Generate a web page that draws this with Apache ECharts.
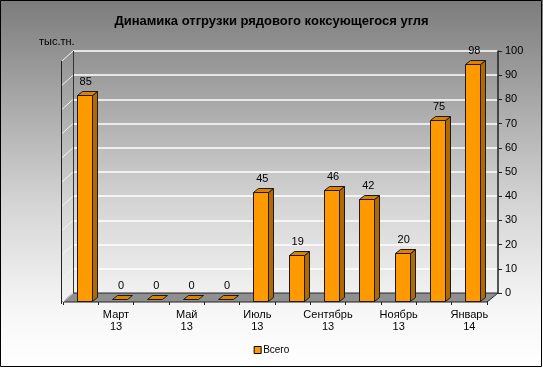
<!DOCTYPE html>
<html><head><meta charset="utf-8">
<script src="https://cdn.jsdelivr.net/npm/echarts@6/dist/echarts.min.js"></script>
<style>html,body{margin:0;padding:0;background:#fff;}#c{width:543px;height:368px;}</style>
</head><body><div id="c"></div>
<script>
// ---- data ----
const categories = ['Февраль 13','Март 13','Апрель 13','Май 13','Июнь 13','Июль 13','Август 13','Сентябрь 13','Октябрь 13','Ноябрь 13','Декабрь 13','Январь 14'];
const values = [85, 0, 0, 0, 0, 45, 19, 46, 42, 20, 75, 98];
const yMin = 0, yMax = 100, yStep = 10;
const seriesName = 'Всего';
const titleText = 'Динамика отгрузки рядового коксующегося угля';
const unitLabel = 'тыс.тн.';

// ---- layout (front plane & back wall) ----
const W = 543, H = 368;
const F = {left: 63, right: 487, top: 59, base: 301};
const B = {left: 73, right: 498, top: 51, base: 293};
const DX = 5, DY = -4, BW = 15, SHIFT = 3.5;
const FONT = 'Liberation Sans, Arial, sans-serif';

const chart = echarts.init(document.getElementById('c'), null, {renderer: 'canvas'});

const ticks = [];
for (let v = yMin; v <= yMax; v += yStep) ticks.push(v);

function yBack(v) { return B.base - (v - yMin) / (yMax - yMin) * (B.base - B.top); }
function yFront(v) { return F.base - (v - yMin) / (yMax - yMin) * (F.base - F.top); }

const graphics = [];
// outer frame
graphics.push({type: 'rect', shape: {x: 0.5, y: 0.5, width: W - 2, height: H - 2}, style: {fill: null, stroke: '#000', lineWidth: 1}, z: 100});
// unit label
graphics.push({type: 'text', left: 39, top: 36, style: {text: unitLabel, font: '11px ' + FONT, fill: '#000'}});
// floor
graphics.push({type: 'polygon', shape: {points: [[F.left, F.base + 1], [F.right, F.base + 1], [B.right, B.base], [B.left, B.base]]},
  style: {fill: '#8f8f8f', stroke: '#222', lineWidth: 1}, z: 1});
// side wall grid diagonals
ticks.forEach(v => {
  const yb = yBack(v);
  graphics.push({type: 'line', shape: {x1: F.left - 1, y1: yb + 10, x2: B.left, y2: yb}, style: {stroke: '#f4f4f4', lineWidth: 1}, z: 2});
});
// left front axis line
graphics.push({type: 'line', shape: {x1: F.left - 1.5, y1: yBack(yMax) + 10, x2: F.left - 1.5, y2: F.base + 3}, style: {stroke: '#222', lineWidth: 1}, z: 3});
// back wall left edge
graphics.push({type: 'line', shape: {x1: B.left + 0.5, y1: B.top, x2: B.left + 0.5, y2: B.base}, style: {stroke: '#333', lineWidth: 1}, z: 3});

const option = {
  animation: false,
  backgroundColor: new echarts.graphic.LinearGradient(0, 0, 0, 1, [
    {offset: 0, color: '#7c7c7c'},
    {offset: 0.55, color: '#d4d4d4'},
    {offset: 0.85, color: '#f7f7f7'},
    {offset: 1, color: '#ffffff'}
  ]),
  title: {text: titleText, left: 'center', top: 10,
    textStyle: {fontFamily: FONT, fontSize: 13, fontWeight: 'bold', color: '#000'}},
  legend: {data: [seriesName], left: 'center', bottom: 8, icon: 'rect', itemWidth: 7, itemHeight: 7, itemGap: 2,
    itemStyle: {borderColor: '#000', borderWidth: 1},
    textStyle: {fontFamily: FONT, fontSize: 10, color: '#000', padding: [0, 0, 0, -3]}},
  grid: [
    {left: F.left, width: F.right - F.left, top: F.top, height: F.base - F.top},
    {left: B.left, width: B.right - B.left, top: B.top, height: B.base - B.top}
  ],
  xAxis: [
    {type: 'category', gridIndex: 0, data: categories, offset: 2,
      axisLine: {lineStyle: {color: '#222', width: 1}},
      axisTick: {show: true, length: 4, lineStyle: {color: '#222'}},
      axisLabel: {interval: 0, margin: 6, fontFamily: FONT, fontSize: 11, color: '#000', lineHeight: 12,
        formatter: (v, i) => (i % 2 === 1 ? v.replace(' ', '\n') : '')}},
    {type: 'category', gridIndex: 1, data: categories, show: false}
  ],
  yAxis: [
    {type: 'value', gridIndex: 0, min: yMin, max: yMax, interval: yStep, show: false},
    {type: 'value', gridIndex: 1, min: yMin, max: yMax, interval: yStep, position: 'right',
      axisLine: {show: true, lineStyle: {color: '#222', width: 1.5}},
      axisTick: {show: true, length: 4, inside: false, lineStyle: {color: '#222'}},
      axisLabel: {margin: 7, fontFamily: FONT, fontSize: 11, color: '#000'},
      splitLine: {show: true, lineStyle: {color: '#ffffff', width: 1.5}}}
  ],
  series: [
    {type: 'custom', name: seriesName, xAxisIndex: 0, yAxisIndex: 0, z: 10,
      itemStyle: {color: '#FF9900'},
      data: values.map((v, i) => [i, v]),
      renderItem: function (params, api) {
        const base = api.coord([api.value(0), 0]);
        const top = api.coord([api.value(0), api.value(1)]);
        const cx = base[0] + SHIFT;
        const x0 = Math.round(cx - BW / 2) + 0.5, x1 = x0 + BW;
        const yb = Math.round(base[1]) + 0.5, yt = Math.round(top[1]) + 0.5;
        const stroke = {stroke: '#1a1a1a', lineWidth: 1};
        const children = [];
        if (api.value(1) > 0) {
          children.push({type: 'polygon', shape: {points: [[x1, yt], [x1 + DX, yt + DY], [x1 + DX, yb + DY], [x1, yb]]},
            style: Object.assign({fill: '#B06A00'}, stroke)});
          children.push({type: 'polygon', shape: {points: [[x0, yt], [x1, yt], [x1 + DX, yt + DY], [x0 + DX, yt + DY]]},
            style: Object.assign({fill: '#D98300'}, stroke)});
          children.push({type: 'rect', shape: {x: x0, y: yt, width: BW, height: yb - yt},
            style: Object.assign({fill: '#FF9900'}, stroke)});
        } else {
          const yz = yb - 2;
          children.push({type: 'polygon', shape: {points: [[x0, yz], [x1, yz], [x1 + DX, yz + DY], [x0 + DX, yz + DY]]},
            style: Object.assign({fill: '#D98300'}, stroke)});
        }
        children.push({type: 'text', style: {text: String(api.value(1)), x: cx + 1.5, y: yt + DY - 4 - (api.value(1) > 0 ? 0 : 2),
          textAlign: 'center', textVerticalAlign: 'bottom', font: '11px ' + FONT, fill: '#000'}});
        return {type: 'group', children: children};
      }
    }
  ],
  graphic: graphics
};
chart.setOption(option);
</script>
</body></html>
